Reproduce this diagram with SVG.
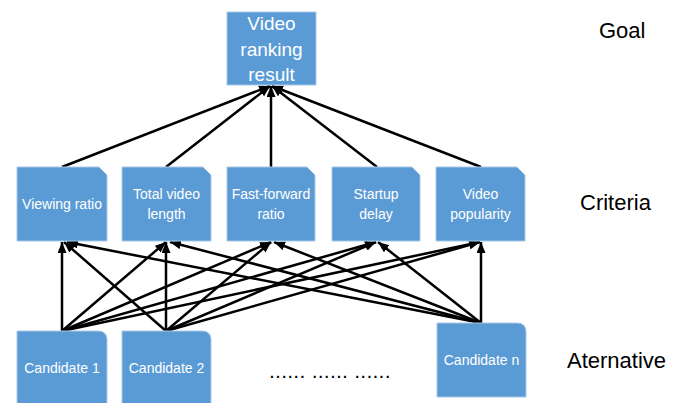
<svg xmlns="http://www.w3.org/2000/svg" width="692" height="403" viewBox="0 0 692 403">
<defs>
<style>
.box{fill:#5B9BD5;stroke:#A9C8E8;stroke-width:1}
.wt{fill:#ffffff;font-family:"Liberation Sans",Arial,sans-serif;text-anchor:middle}
.lbl{fill:#000000;font-family:"Liberation Sans",Arial,sans-serif;font-size:22px}
.c{stroke:#000;stroke-width:2.5;fill:none;marker-end:url(#ah)}
</style>
<marker id="ah" markerUnits="userSpaceOnUse" markerWidth="12" markerHeight="10" refX="11" refY="4.5" orient="auto">
<path d="M0,0 L11,4.5 L0,9 z" fill="#000"/>
</marker>
</defs>
<rect width="692" height="403" fill="#ffffff"/>
<g id="connectors">
<line class="c" x1="62" y1="167" x2="270" y2="86"/>
<line class="c" x1="166" y1="167" x2="270" y2="86"/>
<line class="c" x1="271" y1="167" x2="271" y2="86"/>
<line class="c" x1="377" y1="167" x2="272" y2="86"/>
<line class="c" x1="481" y1="167" x2="272" y2="86"/>
<line class="c" x1="62" y1="331" x2="62" y2="242"/>
<line class="c" x1="62" y1="331" x2="166" y2="242"/>
<line class="c" x1="62" y1="331" x2="271" y2="242"/>
<line class="c" x1="62" y1="331" x2="376" y2="242"/>
<line class="c" x1="62" y1="331" x2="480" y2="242"/>
<line class="c" x1="166" y1="331" x2="64" y2="242"/>
<line class="c" x1="166" y1="331" x2="166" y2="242"/>
<line class="c" x1="166" y1="331" x2="271" y2="242"/>
<line class="c" x1="166" y1="331" x2="376" y2="242"/>
<line class="c" x1="166" y1="331" x2="480" y2="242"/>
<line class="c" x1="481" y1="323" x2="67" y2="242"/>
<line class="c" x1="481" y1="323" x2="170" y2="242"/>
<line class="c" x1="481" y1="323" x2="274" y2="242"/>
<line class="c" x1="481" y1="323" x2="378" y2="242"/>
<line class="c" x1="481" y1="323" x2="481" y2="242"/>
</g>
<g id="goal">
<rect class="box" x="227" y="12" width="89" height="73"/>
<text class="wt" font-size="19" x="271.5" y="30">Video</text>
<text class="wt" font-size="19" x="271.5" y="56">ranking</text>
<text class="wt" font-size="19" x="271.5" y="81">result</text>
</g>
<g id="c1">
<path class="box" d="M17,167 H99 L107,175 V241 H17 Z"/>
<text class="wt" font-size="14" x="62" y="209">Viewing ratio</text>
</g>
<g id="c2">
<path class="box" d="M122,167 H203 L211,175 V241 H122 Z"/>
<text class="wt" font-size="14" x="166.5" y="199">Total video</text>
<text class="wt" font-size="14" x="166.5" y="219">length</text>
</g>
<g id="c3">
<path class="box" d="M227,167 H307 L315,175 V241 H227 Z"/>
<text class="wt" font-size="14" x="271" y="199">Fast-forward</text>
<text class="wt" font-size="14" x="271" y="219">ratio</text>
</g>
<g id="c4">
<path class="box" d="M332,167 H412 L420,175 V241 H332 Z"/>
<text class="wt" font-size="14" x="376" y="199">Startup</text>
<text class="wt" font-size="14" x="376" y="219">delay</text>
</g>
<g id="c5">
<path class="box" d="M436,167 H517 L525,175 V241 H436 Z"/>
<text class="wt" font-size="14" x="480.5" y="199">Video</text>
<text class="wt" font-size="14" x="480.5" y="219">popularity</text>
</g>
<g id="a1">
<path class="box" d="M17,331 H99 A8,8 0 0 1 107,339 V404 H17 Z"/>
<text class="wt" font-size="14" x="62" y="373">Candidate 1</text>
</g>
<g id="a2">
<path class="box" d="M122,331 H203 A8,8 0 0 1 211,339 V404 H122 Z"/>
<text class="wt" font-size="14" x="166.5" y="373">Candidate 2</text>
</g>
<g id="an">
<path class="box" d="M437,323 H518 A8,8 0 0 1 526,331 V397 H437 Z"/>
<text class="wt" font-size="14" x="481.5" y="365">Candidate n</text>
</g>
<text x="270" y="378" font-family="Liberation Sans,Arial,sans-serif" font-size="14" fill="#000" letter-spacing="2.2" font-weight="bold">...... ...... ......</text>
<text class="lbl" x="599" y="38">Goal</text>
<text class="lbl" x="580" y="210">Criteria</text>
<text class="lbl" x="567" y="368" font-size="23">Aternative</text>
</svg>
